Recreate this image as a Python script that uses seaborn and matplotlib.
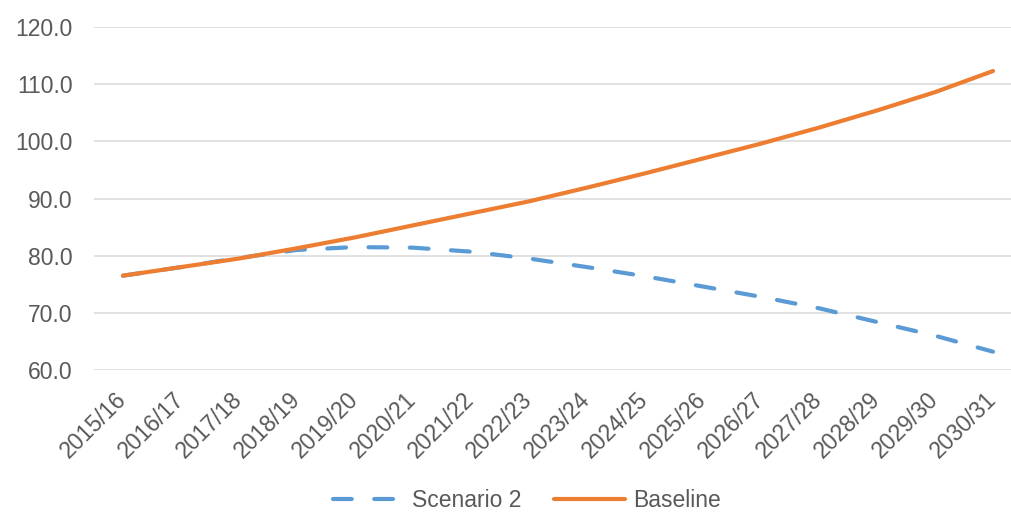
import matplotlib
matplotlib.use("Agg")
import matplotlib.pyplot as plt
import seaborn as sns
import pandas as pd

years = ["2015/16", "2016/17", "2017/18", "2018/19", "2019/20", "2020/21",
         "2021/22", "2022/23", "2023/24", "2024/25", "2025/26", "2026/27",
         "2027/28", "2028/29", "2029/30", "2030/31"]
scenario2 = [76.5, 78.0, 79.6, 81.0, 81.5, 81.4, 80.7, 79.5, 78.0, 76.4,
             74.6, 72.8, 70.8, 68.4, 66.0, 63.2]
baseline = [76.5, 78.0, 79.5, 81.3, 83.2, 85.3, 87.4, 89.5, 91.9, 94.4,
            97.0, 99.6, 102.4, 105.4, 108.6, 112.3]
y_ticks = [60, 70, 80, 90, 100, 110, 120]

sns.set_theme(style="white")
plt.rcParams["font.family"] = ["Liberation Sans", "DejaVu Sans"]

TXT = "#595959"
BLUE = "#5B9BD5"
ORANGE = "#ED7D31"

fig = plt.figure(figsize=(10.11, 5.13), dpi=100)
ax = fig.add_axes([94 / 1011, 1 - 370 / 513, (1022 - 94) / 1011, (370 - 27) / 513])

df_s = pd.DataFrame({"x": range(len(years)), "v": scenario2})
df_b = pd.DataFrame({"x": range(len(years)), "v": baseline})

sns.lineplot(data=df_s, x="x", y="v", ax=ax, color=BLUE, linewidth=3.0,
             label="Scenario 2", sort=False)
sns.lineplot(data=df_b, x="x", y="v", ax=ax, color=ORANGE, linewidth=3.0,
             label="Baseline", sort=False)

l_s, l_b = ax.lines[0], ax.lines[1]
l_s.set_dashes([4.5, 5.4])
l_s.set_dash_capstyle("round")
l_s.set_solid_capstyle("round")
l_b.set_solid_capstyle("round")
l_s.set_zorder(3)
l_b.set_zorder(4)

ax.set_xlim(-0.5, len(years) - 0.5)
ax.set_ylim(60, 120)
ax.set_yticks(y_ticks)
ax.set_yticklabels([f"{v:.1f}" for v in y_ticks])
ax.set_xticks(range(len(years)))
ax.set_xticklabels(years, rotation=45, ha="right", va="center",
                   rotation_mode="anchor")
ax.set_xlabel("")
ax.set_ylabel("")

ax.grid(axis="y", color="#D9D9D9", linewidth=1.1)
ax.grid(axis="x", visible=False)
for s in ax.spines.values():
    s.set_visible(False)
ax.tick_params(axis="y", length=0, pad=15.5, labelsize=16.5, labelcolor=TXT)
ax.tick_params(axis="x", length=0, pad=19, labelsize=16.5, labelcolor=TXT)
ax.set_axisbelow(True)

ax.legend_.remove()
handles = [l_s, l_b]
leg = fig.legend(handles, ["Scenario 2", "Baseline"], loc="center",
                 bbox_to_anchor=(0.521, 0.025), ncol=2, frameon=False,
                 fontsize=16.5, handlelength=3.1, handletextpad=0.35,
                 columnspacing=1.4, labelcolor=TXT, borderaxespad=0)

fig.savefig("out.png", dpi=100)
